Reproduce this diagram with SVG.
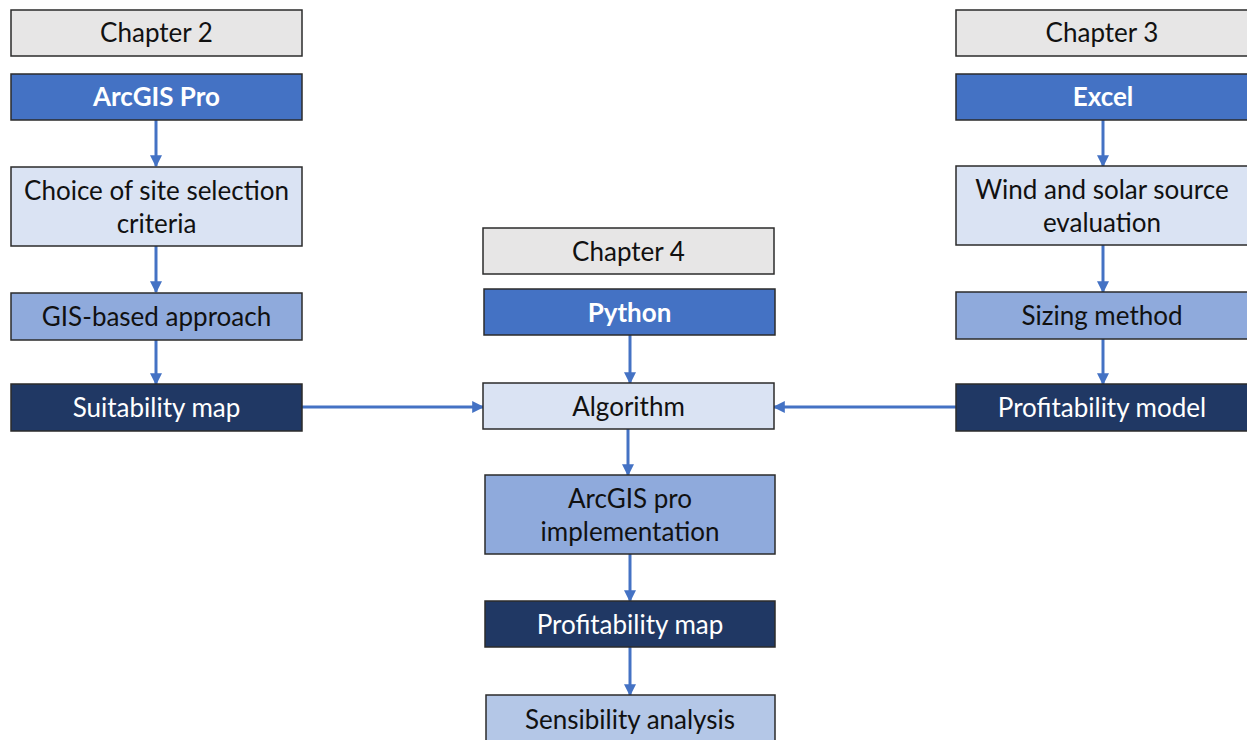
<svg xmlns="http://www.w3.org/2000/svg" width="1247" height="740" viewBox="0 0 1247 740">
<defs>
<style>
.box{stroke:#2b2b2b;stroke-width:1.5}
.ch{fill:#e7e6e6}
.tool{fill:#4472c4}
.light{fill:#dae3f3}
.mid{fill:#8faadc}
.dark{fill:#203864}
.pale{fill:#b4c7e7}
text{font-family:Lato,"Liberation Sans",sans-serif;font-size:26px;text-anchor:middle}
.tb{fill:#111}
.tw{fill:#fff}
.bold{font-weight:bold}
.conn{stroke:#4472c4;stroke-width:3;fill:none;marker-end:url(#arr)}
</style>
<marker id="arr" viewBox="0 0 10 10" refX="9" refY="5" markerWidth="4.5" markerHeight="4" orient="auto" markerUnits="strokeWidth">
<path d="M0,0 L10,5 L0,10 z" fill="#4472c4"/>
</marker>
</defs>
<rect width="1247" height="740" fill="#fff"/>
<g id="connectors">
<path class="conn" d="M156,120 V166"/>
<path class="conn" d="M156,246 V292"/>
<path class="conn" d="M156,340 V384"/>
<path class="conn" d="M1103,120 V166"/>
<path class="conn" d="M1103,245 V292"/>
<path class="conn" d="M1103,339 V384"/>
<path class="conn" d="M630,335 V383"/>
<path class="conn" d="M628,429 V475"/>
<path class="conn" d="M630,554 V601"/>
<path class="conn" d="M630,647 V695"/>
<path class="conn" d="M302,407 H483"/>
<path class="conn" d="M956,407 H774"/>
</g>
<g id="chapter2"><rect class="box ch" x="11" y="10" width="291" height="46"/><text class="tb" x="156.5" y="42">Chapter 2</text></g>
<g id="arcgispro"><rect class="box tool" x="11" y="74" width="291" height="46"/><text class="tw bold" x="156.5" y="106">ArcGIS Pro</text></g>
<g id="choice"><rect class="box light" x="11" y="167" width="291" height="79"/><text class="tb" x="156.5" y="200">Choice of site selection</text><text class="tb" x="156.5" y="233">criteria</text></g>
<g id="gis"><rect class="box mid" x="11" y="293" width="291" height="47"/><text class="tb" x="156.5" y="326">GIS-based approach</text></g>
<g id="suitability"><rect class="box dark" x="11" y="384" width="291" height="47"/><text class="tw" x="156.5" y="417">Suitability map</text></g>
<g id="chapter3"><rect class="box ch" x="956" y="10" width="292" height="46"/><text class="tb" x="1102" y="42">Chapter 3</text></g>
<g id="excel"><rect class="box tool" x="956" y="74" width="292" height="46"/><text class="tw bold" x="1103" y="106">Excel</text></g>
<g id="wind"><rect class="box light" x="956" y="166" width="292" height="79"/><text class="tb" x="1102" y="199">Wind and solar source</text><text class="tb" x="1102" y="232">evaluation</text></g>
<g id="sizing"><rect class="box mid" x="956" y="292" width="292" height="47"/><text class="tb" x="1102" y="325">Sizing method</text></g>
<g id="profmodel"><rect class="box dark" x="956" y="384" width="292" height="47"/><text class="tw" x="1102" y="417">Profitability model</text></g>
<g id="chapter4"><rect class="box ch" x="483" y="228" width="291" height="46"/><text class="tb" x="628.5" y="261">Chapter 4</text></g>
<g id="python"><rect class="box tool" x="484" y="289" width="291" height="46"/><text class="tw bold" x="629.5" y="322">Python</text></g>
<g id="algorithm"><rect class="box light" x="483" y="383" width="291" height="46"/><text class="tb" x="628.5" y="416">Algorithm</text></g>
<g id="implementation"><rect class="box mid" x="485" y="475" width="290" height="79"/><text class="tb" x="630" y="508">ArcGIS pro</text><text class="tb" x="630" y="541">implementation</text></g>
<g id="profmap"><rect class="box dark" x="485" y="601" width="290" height="46"/><text class="tw" x="630" y="634">Profitability map</text></g>
<g id="sensibility"><rect class="box pale" x="486" y="695" width="289" height="60"/><text class="tb" x="630" y="729">Sensibility analysis</text></g>
</svg>
